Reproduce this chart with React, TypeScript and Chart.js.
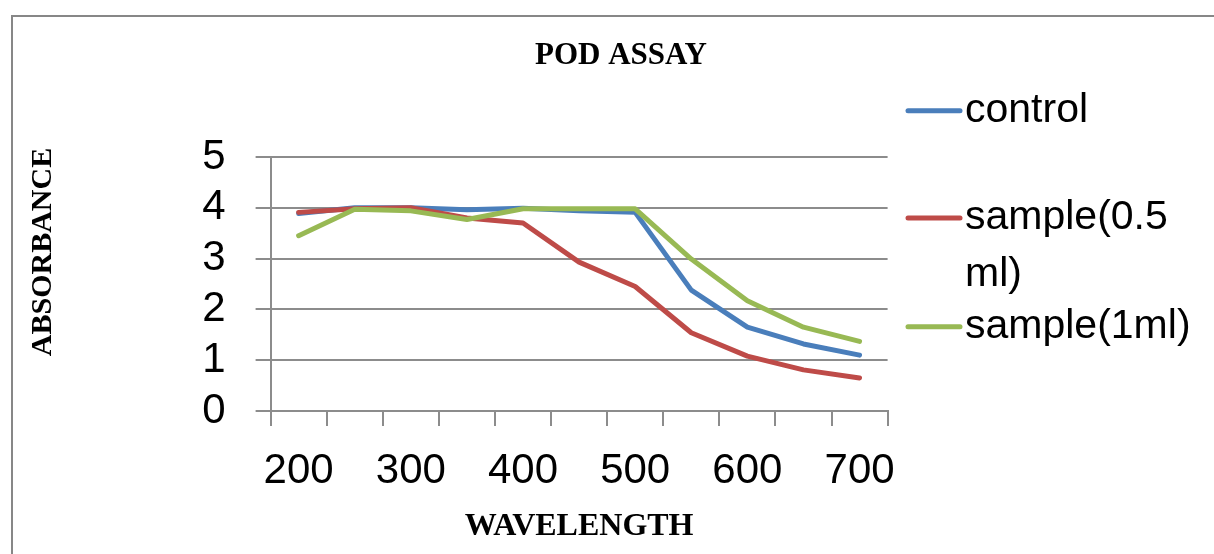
import React, { useEffect, useRef } from "react";
import { Chart, registerables } from "chart.js";

Chart.register(...registerables);

const categories = ["200", "250", "300", "350", "400", "450", "500", "550", "600", "650", "700"];
const controlValues = [3.89, 4.0, 4.0, 3.96, 3.99, 3.94, 3.91, 2.38, 1.65, 1.32, 1.1];
const sample05Values = [3.91, 3.98, 4.0, 3.8, 3.7, 2.93, 2.45, 1.54, 1.08, 0.81, 0.65];
const sample1Values = [3.45, 3.97, 3.94, 3.77, 3.98, 3.98, 3.98, 2.99, 2.17, 1.65, 1.37];
const seriesNames = ["control", "sample(0.5 ml)", "sample(1ml)"];
const legendLines = [["control"], ["sample(0.5", "ml)"], ["sample(1ml)"]];
const chartTitle = "POD ASSAY";
const xTitle = "WAVELENGTH";
const yTitle = "ABSORBANCE";

const COLORS = ["#4A7EBB", "#BE4B48", "#98B954"];
const GRID = "#8C8C8C";
const SANS = "'Liberation Sans', Arial, sans-serif";
const SERIF = "'Liberation Serif', 'Times New Roman', serif";

const decorPlugin = {
  id: "decor",
  beforeDraw(chart: any) {
    const ctx = chart.ctx;
    ctx.save();
    ctx.fillStyle = "#ffffff";
    ctx.fillRect(0, 0, chart.width, chart.height);
    ctx.strokeStyle = "#878787";
    ctx.lineWidth = 2;
    ctx.beginPath();
    ctx.moveTo(12, chart.height + 5);
    ctx.lineTo(12, 16);
    ctx.lineTo(chart.width + 5, 16);
    ctx.stroke();
    ctx.restore();
  },
  afterDraw(chart: any) {
    const ctx = chart.ctx;
    ctx.save();
    ctx.fillStyle = "#000";
    ctx.textAlign = "center";
    ctx.textBaseline = "middle";
    // chart title
    ctx.font = `bold 31px ${SERIF}`;
    ctx.fillText(chartTitle, 621, 56);
    // y axis title
    ctx.save();
    ctx.translate(43, 252);
    ctx.rotate(-Math.PI / 2);
    ctx.font = `bold 30px ${SERIF}`;
    ctx.fillText(yTitle, 0, 0);
    ctx.restore();
    // legend
    const ys = [110.7, 218, 326.7];
    ctx.font = `41px ${SANS}`;
    ctx.textAlign = "left";
    legendLines.forEach((lines, i) => {
      const y = ys[i];
      ctx.strokeStyle = COLORS[i];
      ctx.lineWidth = 5;
      ctx.lineCap = "round";
      ctx.beginPath();
      ctx.moveTo(908, y);
      ctx.lineTo(960, y);
      ctx.stroke();
      ctx.fillStyle = "#000";
      lines.forEach((t, j) => {
        ctx.fillText(t, 965, y + j * 57);
      });
    });
    ctx.restore();
  },
};

export default function App() {
  const ref = useRef<HTMLCanvasElement | null>(null);
  useEffect(() => {
    if (!ref.current) return;
    const chart = new Chart(ref.current, {
      type: "line",
      data: {
        labels: categories,
        datasets: [
          { label: seriesNames[0], data: controlValues, borderColor: COLORS[0], backgroundColor: COLORS[0], order: 2 },
          { label: seriesNames[1], data: sample05Values, borderColor: COLORS[1], backgroundColor: COLORS[1], order: 1 },
          { label: seriesNames[2], data: sample1Values, borderColor: COLORS[2], backgroundColor: COLORS[2], order: 0 },
        ].map((d) => ({
          ...d,
          borderWidth: 5,
          pointRadius: 0,
          tension: 0,
          borderCapStyle: "round" as const,
          borderJoinStyle: "round" as const,
        })),
      },
      options: {
        responsive: false,
        animation: false,
        layout: { padding: { top: 157, left: 0, right: 1214 - 887.6, bottom: 0 } },
        plugins: {
          legend: { display: false },
          title: { display: false },
          tooltip: { enabled: false },
        },
        scales: {
          x: {
            type: "category",
            offset: true,
            afterFit: (s: any) => {
              s.height = 554 - 411;
            },
            grid: {
              offset: true,
              drawOnChartArea: false,
              drawTicks: true,
              tickLength: 15,
              color: GRID,
              lineWidth: 2,
            },
            border: { display: true, color: GRID, width: 2 },
            ticks: {
              autoSkip: false,
              maxRotation: 0,
              padding: 20,
              color: "#000",
              font: { family: SANS, size: 42 },
              callback: (_v: any, i: number) => (i % 2 === 0 ? categories[i] : ""),
            },
            title: {
              display: true,
              text: xTitle,
              color: "#000",
              font: { family: SERIF, size: 32, weight: "bold" },
              padding: { top: 0, bottom: 8 },
            },
          },
          y: {
            min: 0,
            max: 5,
            afterFit: (s: any) => {
              s.width = 270.6;
            },
            grid: {
              color: GRID,
              lineWidth: 2,
              tickLength: 15,
            },
            border: { display: true, color: GRID, width: 2 },
            ticks: {
              stepSize: 1,
              autoSkip: false,
              padding: 30,
              color: "#000",
              font: { family: SANS, size: 42 },
            },
          },
        },
      },
      plugins: [decorPlugin],
    });
    return () => chart.destroy();
  }, []);
  return (
    <div style={{ position: "absolute", left: 0, top: 0, width: 1214, height: 554 }}>
      <canvas ref={ref} width={1214} height={554} style={{ display: "block", width: 1214, height: 554 }} />
    </div>
  );
}
